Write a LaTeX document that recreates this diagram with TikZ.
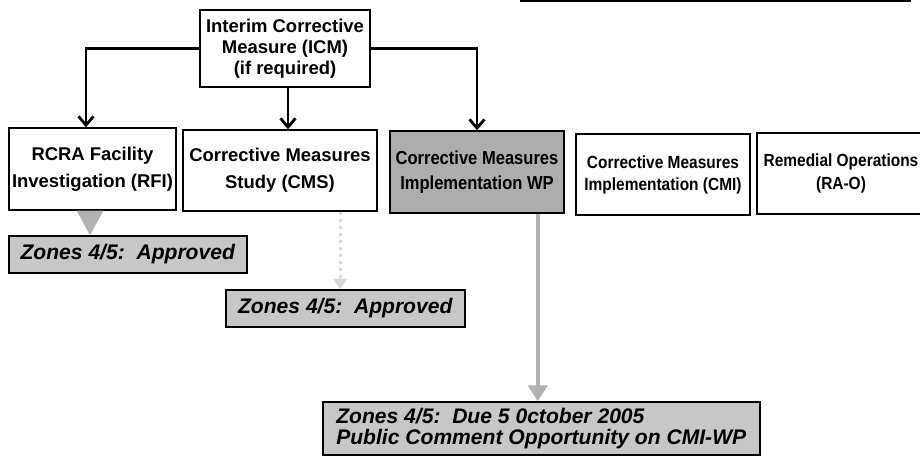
\documentclass[tikz,border=0pt]{standalone}
\usepackage{fontspec}
\setmainfont{Liberation Sans}
\newfontfamily\narrowfont[FakeStretch=0.88]{Liberation Sans}
\usetikzlibrary{arrows.meta}

\begin{document}
\begin{tikzpicture}[x=0.02cm, y=-0.02cm,
    stagebox/.style={draw, line width=0.8pt, align=center, inner sep=0pt,
      font=\fontsize{10.5}{15.5}\selectfont\bfseries},
    narrowbox/.style={stagebox, font=\narrowfont\fontsize{10}{13.5}\selectfont\bfseries},
    zonebox/.style={draw, line width=0.9pt, fill=black!22, align=left, anchor=west,
      inner xsep=5pt, inner ysep=0pt, font=\fontsize{12}{12}\selectfont\bfseries\itshape},
    flow/.style={line width=1.6pt, -{Straight Barb[length=5pt,width=8.5pt,line width=1.6pt]}},
    shade/.style={draw=black!30, line width=2pt,
      -{Triangle[length=9pt,width=11pt,color=black!30]}}]
  \useasboundingbox (0,0) rectangle (920,462);
  % stray rule along the top edge
  \draw[line width=1.2pt] (520,1) -- (911,1);
  % interim measure
  \node[stagebox, minimum width=3.4cm, minimum height=1.54cm,
    font=\fontsize{10.5}{12}\selectfont\bfseries] (icm) at (285,48.5)
    {Interim Corrective\\Measure (ICM)\\(if required)};
  % row of stages
  \node[stagebox, minimum width=3.34cm, minimum height=1.64cm] (rfi) at (92.5,169)
    {RCRA Facility\\Investigation (RFI)};
  \node[stagebox, minimum width=3.88cm, minimum height=1.62cm] (cms) at (280,170.5)
    {Corrective Measures\\Study (CMS)};
  \node[narrowbox, fill=black!32, minimum width=3.48cm, minimum height=1.64cm,
    font=\narrowfont\fontsize{10.7}{14}\selectfont\bfseries] (cmiwp) at (477,172)
    {Corrective Measures\\Implementation WP};
  \node[narrowbox, minimum width=3.48cm, minimum height=1.62cm,
    font=\narrowfont\fontsize{10}{12.5}\selectfont\bfseries] (cmi) at (663,174.5)
    {Corrective Measures\\Implementation (CMI)};
  \node[narrowbox, minimum width=3.36cm, minimum height=1.62cm] (rao) at (841,173.5)
    {Remedial Operations\\(RA-O)};
  % zone status notes
  \node[zonebox, minimum width=4.76cm, minimum height=0.74cm] (z1) at (8,254.5)
    {Zones 4/5:\ \ Approved};
  \node[zonebox, minimum width=4.78cm, minimum height=0.74cm] (z2) at (225,308.5)
    {Zones 4/5:\ \ Approved};
  \node[zonebox, minimum width=8.74cm, minimum height=1.06cm] (z3) at (322,428.5)
    {Zones 4/5:\ \ Due 5 0ctober 2005\\Public Comment Opportunity on CMI-WP};
  % arrows from the ICM
  \draw[flow] (icm.west) -| ([xshift=-0.13cm]rfi.north);
  \draw[flow] ([xshift=0.06cm]icm.south) -- ([xshift=0.06cm]icm.south |- cms.north);
  \draw[flow] (icm.east) -| (cmiwp.north);
  % grey pointers to the notes
  \draw[shade, line width=1pt, -{Triangle[length=14pt,width=15pt,color=black!30]}]
    ([xshift=-0.05cm]rfi.south) -- ([xshift=-0.05cm]rfi.south |- z1.north);
  \draw[shade, draw=black!15, dotted, -{Triangle[length=6pt,width=8pt,color=black!15]}]
    ([xshift=-0.1cm]z2.north |- cms.south) -- ([xshift=-0.1cm]z2.north);
  \draw[shade] ([xshift=-0.07cm]z3.north |- cmiwp.south) -- ([xshift=-0.07cm]z3.north);
\end{tikzpicture}
\end{document}
